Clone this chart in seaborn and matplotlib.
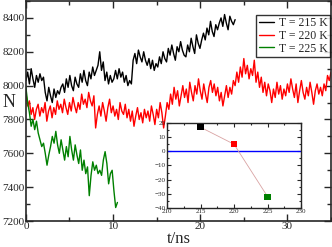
import numpy as np
import pandas as pd
import matplotlib
matplotlib.use("Agg")
import matplotlib.pyplot as plt
from matplotlib.ticker import MultipleLocator
import seaborn as sns

sns.set_style("ticks")
plt.rcParams['font.family'] = ['Liberation Serif', 'DejaVu Serif']

# time series of N, sampled evenly from 0 to the end time (ns)
t_end_215 = 24.0
n_215 = [8030, 8080, 8010, 8100, 8040, 7990, 8060, 8020, 8070, 8030, 8050,
         7960, 7910, 7990, 7940, 7900, 7980, 7930, 7970, 7950, 7990,
         8010, 7960, 8040, 7990, 8060, 8000, 7970, 8050, 8010, 7990,
         8070, 8020, 8090, 8030, 8000, 8080, 8040, 8110, 8060, 8090,
         8120, 8200, 8090, 8140, 8030, 8080, 8010, 8060, 8020, 8040,
         8090, 8040, 8100, 8050, 8080, 8020, 8060, 8000, 8030, 8010,
         8150, 8190, 8130, 8210, 8170, 8140, 8200, 8150, 8120, 8160,
         8100, 8150, 8090, 8130, 8110, 8170, 8130, 8200, 8160, 8140,
         8220, 8180, 8240, 8190, 8150, 8230, 8200, 8260, 8210, 8180,
         8170, 8240, 8200, 8280, 8230, 8190, 8300, 8250, 8220, 8270,
         8310, 8270, 8340, 8300, 8380, 8320, 8290, 8360, 8330, 8370,
         8400, 8350, 8420, 8370, 8330, 8410, 8380, 8360, 8390]

t_end_220 = 35.0
n_220 = [7960, 7880, 7910, 7830, 7870, 7800, 7860, 7890, 7820, 7870,
         7840, 7900, 7790, 7850, 7880, 7810, 7870, 7830, 7910, 7860,
         7890, 7840, 7920, 7870, 7830, 7900, 7850, 7930, 7880, 7840,
         7900, 7860, 7950, 7890, 7920, 7870, 7960, 7910, 7880, 7940,
         7750, 7830, 7880, 7820, 7900, 7850, 7790, 7870, 7920, 7840,
         7880, 7820, 7860, 7800, 7900, 7850, 7830, 7890, 7810, 7860,
         7790, 7850, 7760, 7820, 7870, 7800, 7840, 7780, 7860, 7810,
         7850, 7790, 7880, 7830, 7770, 7860, 7810, 7900, 7840, 7750,
         7820, 7900, 7860, 7950, 7890, 7990, 7920, 7970, 7880, 7940,
         8000, 7930, 7980, 7900, 8020, 7960, 7910, 8000, 7950, 8040,
         7970, 7920, 8010, 7950, 7900, 7990, 8030, 7960, 8010, 7940,
         7990, 7910, 7960, 7880, 7940, 8000, 7930, 7990, 7950, 8030,
         8000, 8080, 8020, 8110, 8050, 8160, 8070, 8120, 8040, 8100,
         8060, 8150, 8020, 8080, 7990, 8050, 7960, 8020, 7940, 8010,
         7970, 7900, 7980, 7930, 8020, 7950, 8000, 7920, 7980, 7940,
         8010, 7960, 8040, 7980, 7930, 8010, 7900, 7970, 8030, 7960,
         7920, 7990, 7940, 8020, 7960, 7890, 7970, 8010, 7950, 7990,
         7940, 8010, 7970, 8060, 8030, 8080]

t_end_225 = 10.5
n_225 = [7990, 7900, 7840, 7760, 7800, 7740, 7790, 7720, 7680, 7640,
         7660, 7600, 7530, 7590, 7640, 7700, 7660, 7730, 7650, 7600,
         7680, 7620, 7560, 7640, 7580, 7700, 7620, 7560, 7650, 7590,
         7540, 7620, 7500, 7560, 7480, 7520, 7350, 7470, 7550, 7500,
         7530, 7480, 7500, 7470, 7560, 7610, 7540, 7420, 7480, 7500,
         7380, 7280, 7310]

# inset data
temps = [215, 220, 225]
inset_vals = [17, 5, -32]
colors = ["black", "red", "green"]
labels = ["T = 215 K", "T = 220 K", "T = 225 K"]

fig = plt.figure(figsize=(3.32, 2.47), dpi=100)
ax = fig.add_axes([0.078, 0.105, 0.919, 0.891])

series = [(t_end_215, n_215), (t_end_220, n_220), (t_end_225, n_225)]
for (t_end, vals), c, lab in zip(series, colors, labels):
    t = np.linspace(0, t_end, len(vals))
    sns.lineplot(x=t, y=vals, ax=ax, color=c, linewidth=1.0, label=lab)

ax.set_xlim(0, 35)
ax.set_ylim(7200, 8500)
ax.xaxis.set_major_locator(MultipleLocator(10))
ax.xaxis.set_minor_locator(MultipleLocator(5))
ax.yaxis.set_major_locator(MultipleLocator(200))
ax.yaxis.set_minor_locator(MultipleLocator(100))
ax.tick_params(which="both", direction="in", top=True, right=True,
               labelsize=8, pad=1, width=1)
ax.tick_params(which="major", length=5)
ax.tick_params(which="minor", length=3)
for s in ax.spines.values():
    s.set_linewidth(1.2)
ax.set_xlabel("t/ns", fontsize=12, labelpad=0)
ax.set_ylabel("N", fontsize=13, rotation=0, va="center", ha="center")
ax.yaxis.set_label_coords(-0.056, 0.54)

leg = ax.legend(loc="upper right", bbox_to_anchor=(0.994, 0.939),
                bbox_transform=fig.transFigure, borderaxespad=0,
                fontsize=8.5, frameon=True, fancybox=False, edgecolor="black",
                handlelength=1.3, handletextpad=0.4, labelspacing=0.05,
                borderpad=0.2)
leg.get_frame().set_linewidth(1.0)

# inset
axi = fig.add_axes([0.503, 0.158, 0.404, 0.344])
axi.set_facecolor("white")
axi.axhline(0, color="blue", linewidth=1.0)
sns.lineplot(x=temps, y=inset_vals, ax=axi, color="#d9a3a3", linewidth=0.6)
sns.scatterplot(x=temps, y=inset_vals, ax=axi, hue=labels, palette=colors,
                marker="s", s=20, edgecolor="none", legend=False, zorder=3)
axi.set_xlim(210, 230)
axi.set_ylim(-40, 20)
axi.xaxis.set_major_locator(MultipleLocator(5))
axi.xaxis.set_minor_locator(MultipleLocator(2.5))
axi.yaxis.set_major_locator(MultipleLocator(10))
axi.yaxis.set_minor_locator(MultipleLocator(5))
axi.tick_params(which="both", direction="in", top=True, right=True,
                labelsize=5, pad=1, width=0.8)
axi.tick_params(which="major", length=3)
axi.tick_params(which="minor", length=1.5)
for s in axi.spines.values():
    s.set_linewidth(1.0)

fig.savefig("out.png", dpi=100)
